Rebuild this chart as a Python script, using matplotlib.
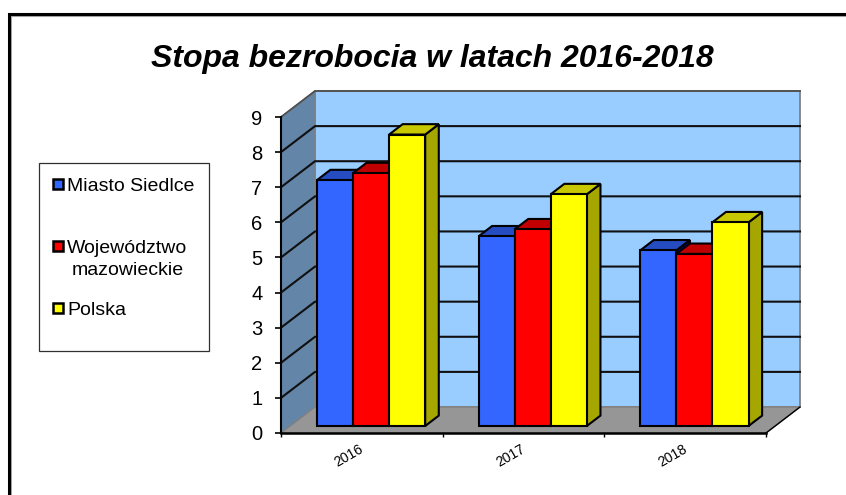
import matplotlib
matplotlib.use("Agg")
import matplotlib.pyplot as plt
from matplotlib.patches import Polygon, Rectangle

plt.rcParams['font.family'] = ['Liberation Sans', 'DejaVu Sans']

years = ['2016', '2017', '2018']
siedlce = [7.0, 5.4, 5.0]
mazowieckie = [7.2, 5.6, 4.9]
polska = [8.3, 6.6, 5.8]
y_ticks = [0, 1, 2, 3, 4, 5, 6, 7, 8, 9]

W, H = 846, 495
# front plane of the box, in pixels
LEFT, RIGHT, BOTTOM, TOP = 281.0, 766.0, 433.0, 117.0
# how far the back wall is shifted, in data units
DX = 34.0 / ((RIGHT - LEFT) / 3)
DY = 26.0 / ((BOTTOM - TOP) / 9)
D_FRONT, D_BACK = 0.27, 0.67
BAR_W = 0.2234

fig = plt.figure(figsize=(W / 100, H / 100), dpi=100, facecolor='white')
ax = fig.add_axes([LEFT / W, 1 - BOTTOM / H, (RIGHT - LEFT) / W, (BOTTOM - TOP) / H])
ax.set_xlim(0, 3)
ax.set_ylim(0, 9)
ax.patch.set_visible(False)
for s in ax.spines.values():
    s.set_visible(False)


def proj(x, y, d):
    return (x + d * DX, y + d * DY)


def poly(pts, color, edge='black', lw=1.5, z=2):
    ax.add_patch(Polygon(pts, closed=True, facecolor=color, edgecolor=edge,
                         linewidth=lw, zorder=z, clip_on=False, joinstyle='miter'))


# back wall, side wall, floor
poly([proj(0, 0, 1), proj(3, 0, 1), proj(3, 9, 1), proj(0, 9, 1)], '#99ccff', edge='#808080', lw=1.3, z=1)
poly([proj(0, 0, 0), proj(0, 0, 1), proj(0, 9, 1), proj(0, 9, 0)], '#6385a8', edge='#808080', lw=1.0, z=1)
poly([proj(0, 0, 0), proj(3, 0, 0), proj(3, 0, 1), proj(0, 0, 1)], '#969696', edge='#808080', lw=1.0, z=1)

# gridlines on the walls
for v in y_ticks[1:-1]:
    a, b, c = proj(0, v, 0), proj(0, v, 1), proj(3, v, 1)
    ax.plot([a[0], b[0], c[0]], [a[1], b[1], c[1]], color='#101010', lw=1.5, zorder=1.5,
            clip_on=False, solid_joinstyle='miter')
top = [proj(0, 9, 0), proj(0, 9, 1), proj(3, 9, 1)]
ax.plot([p[0] for p in top], [p[1] for p in top], color='#505050', lw=1.3, zorder=1.5, clip_on=False)

# axis lines and ticks
ax.plot([0, 0], [0, 9], color='black', lw=1.5, zorder=1.6, clip_on=False)
ax.plot([0, 3], [0, 0], color='black', lw=1.8, zorder=1.6, clip_on=False)
a, b = proj(3, 0, 0), proj(3, 0, 1)
ax.plot([a[0], b[0]], [a[1], b[1]], color='black', lw=1.0, zorder=1.6, clip_on=False)
ax.set_xticks([0, 1, 2, 3])
ax.set_xticklabels([])
ax.set_yticks(y_ticks)
ax.tick_params(axis='y', length=4.5, width=1.2, labelsize=14.5, pad=9)
ax.tick_params(axis='x', length=3, width=1.0)
for i, yr in enumerate(years):
    ax.text(i + 0.5 - 0.08, -0.65, yr, rotation=30, fontsize=10, ha='center', va='center')

series = [
    (siedlce, '#3366ff', '#254cc0', 'Miasto Siedlce'),
    (mazowieckie, '#ff0000', '#c00000', 'Województwo\nmazowieckie'),
    (polska, '#ffff00', '#c8c800', 'Polska'),
]

# bars, left to right so the nearer faces overlap properly
for i in range(len(years)):
    start = i + 0.5 - 1.5 * BAR_W
    for j, (vals, col, top_col, _) in enumerate(series):
        x0 = start + j * BAR_W
        x1 = x0 + BAR_W
        h = vals[i]
        side_col = '#a6a600' if j == 2 else '#0000a0' if j == 0 else '#a00000'
        z = 3 + i * 3 + j * 0.1
        poly([proj(x1, 0, D_FRONT), proj(x1, 0, D_BACK), proj(x1, h, D_BACK), proj(x1, h, D_FRONT)],
             side_col, z=z)
        poly([proj(x0, h, D_FRONT), proj(x1, h, D_FRONT), proj(x1, h, D_BACK), proj(x0, h, D_BACK)],
             top_col, z=z)
        poly([proj(x0, 0, D_FRONT), proj(x1, 0, D_FRONT), proj(x1, h, D_FRONT), proj(x0, h, D_FRONT)],
             col, z=z + 0.05)

# overlay for frame, title and legend, in picture pixels
ov = fig.add_axes([0, 0, 1, 1], zorder=5)
ov.set_xlim(0, W)
ov.set_ylim(H, 0)
ov.axis('off')
# the slide frame runs off the picture at right and bottom
ov.plot([10.8, 10.8, 900], [600, 16.2, 16.2], color='#a8a8a8', lw=0.8, clip_on=True)
ov.plot([8.8, 8.8, 900], [600, 14.2, 14.2], color='black', lw=2.2, clip_on=True,
        solid_joinstyle='miter')
ov.text(432.5, 67, 'Stopa bezrobocia w latach 2016-2018', fontsize=23, fontweight='bold', fontstyle='italic',
        ha='center', va='baseline')

ov.add_patch(Rectangle((38.5, 162.5), 170.5, 188, facecolor='white', edgecolor='#303030', lw=0.9))
legend_y = [184, 246, 308]
for (vals, col, top_col, label), ly in zip(series, legend_y):
    ov.add_patch(Rectangle((53, ly - 5), 10, 10, facecolor=col, edgecolor='black', lw=1.8))
    if '\n' in label:
        first, second = label.split('\n')
        ov.text(67, ly + 7, first, fontsize=14, va='baseline', ha='left')
        ov.text(72, ly + 29, second, fontsize=14, va='baseline', ha='left')
    else:
        ov.text(67, ly + 7, label, fontsize=14, va='baseline', ha='left')

fig.savefig('out.png', dpi=100)
